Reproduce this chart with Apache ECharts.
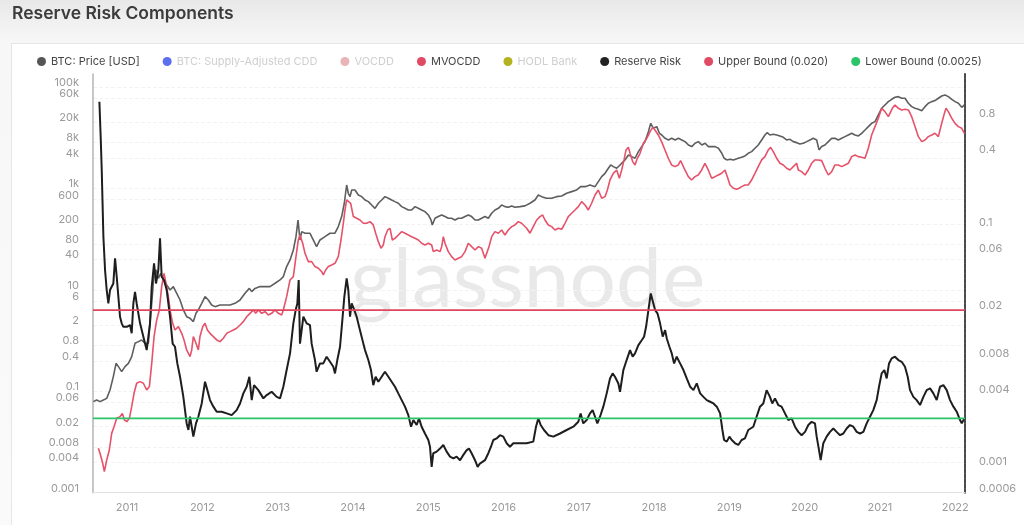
<!DOCTYPE html>
<html>
<head>
<meta charset="utf-8">
<script src="https://cdn.jsdelivr.net/npm/echarts@6/dist/echarts.min.js"></script>
<style>
  html, body { margin: 0; padding: 0; }
  body { width: 1024px; height: 525px; background: linear-gradient(#e8e8e8 0px, #f3f3f3 30px, #f7f7f7 42px, #fafafa 525px); position: relative; overflow: hidden; }
  #card { position: absolute; left: 11px; top: 43px; right: -2px; bottom: -2px; background: #fff; border: 1px solid #e6e6e6; }
  #chart { position: absolute; left: 0; top: 0; width: 1024px; height: 525px; }
</style>
</head>
<body>
<div id="card"></div>
<div id="chart"></div>
<script>
// ---- axis ticks ----
const yearTicks = [2011, 2012, 2013, 2014, 2015, 2016, 2017, 2018, 2019, 2020, 2021, 2022];
const leftTicks = [0.001, 0.004, 0.008, 0.02, 0.06, 0.1, 0.4, 0.8, 2, 6, 10, 40, 80, 200, 600, 1000, 4000, 8000, 20000, 60000, 100000];
const rightTicks = [0.0006, 0.001, 0.004, 0.008, 0.02, 0.06, 0.1, 0.4, 0.8];

// ---- bounds ----
const upperBound = 0.02;
const lowerBound = 0.0025;

// ---- BTC price [USD] (decimal year, value) ----
const priceYears = [2010.553,2010.597,2010.641,2010.686,2010.730,2010.774,2010.818,2010.854,2010.885,2010.929,2010.973,2011.018,2011.062,2011.106,2011.151,2011.195,2011.239,2011.283,2011.328,2011.359,2011.385,2011.416,2011.447,2011.483,2011.527,2011.571,2011.615,2011.660,2011.704,2011.748,2011.792,2011.837,2011.881,2011.916,2011.947,2011.992,2012.036,2012.080,2012.124,2012.169,2012.235,2012.301,2012.368,2012.434,2012.501,2012.567,2012.625,2012.656,2012.700,2012.766,2012.833,2012.899,2012.966,2013.032,2013.076,2013.120,2013.165,2013.209,2013.244,2013.271,2013.297,2013.320,2013.364,2013.430,2013.452,2013.496,2013.518,2013.563,2013.629,2013.696,2013.762,2013.806,2013.851,2013.886,2013.917,2013.939,2013.962,2013.984,2014.028,2014.072,2014.116,2014.161,2014.205,2014.249,2014.293,2014.338,2014.382,2014.426,2014.471,2014.515,2014.559,2014.603,2014.648,2014.692,2014.736,2014.781,2014.825,2014.869,2014.913,2014.957,2015.002,2015.037,2015.055,2015.090,2015.134,2015.179,2015.223,2015.267,2015.311,2015.356,2015.400,2015.444,2015.489,2015.533,2015.577,2015.622,2015.666,2015.710,2015.754,2015.799,2015.843,2015.887,2015.932,2015.976,2016.020,2016.064,2016.109,2016.153,2016.219,2016.286,2016.352,2016.418,2016.463,2016.507,2016.573,2016.640,2016.706,2016.773,2016.839,2016.905,2016.972,2017.025,2017.083,2017.149,2017.216,2017.260,2017.304,2017.349,2017.393,2017.424,2017.459,2017.504,2017.548,2017.614,2017.659,2017.703,2017.747,2017.792,2017.836,2017.880,2017.925,2017.956,2017.991,2018.036,2018.071,2018.102,2018.147,2018.191,2018.235,2018.279,2018.324,2018.368,2018.412,2018.456,2018.501,2018.545,2018.589,2018.634,2018.678,2018.722,2018.767,2018.811,2018.855,2018.900,2018.931,2018.966,2019.010,2019.054,2019.119,2019.163,2019.207,2019.251,2019.296,2019.340,2019.384,2019.429,2019.473,2019.504,2019.539,2019.584,2019.628,2019.672,2019.717,2019.761,2019.805,2019.849,2019.894,2019.938,2019.982,2020.027,2020.071,2020.115,2020.160,2020.191,2020.226,2020.270,2020.315,2020.359,2020.403,2020.447,2020.492,2020.536,2020.580,2020.625,2020.669,2020.713,2020.757,2020.802,2020.846,2020.890,2020.935,2020.979,2021.023,2021.067,2021.112,2021.156,2021.200,2021.245,2021.289,2021.333,2021.378,2021.422,2021.466,2021.511,2021.555,2021.599,2021.643,2021.688,2021.732,2021.776,2021.821,2021.865,2021.909,2021.954,2021.998,2022.042,2022.087,2022.122];
const priceValues = [0.0625,0.0673,0.0625,0.0673,0.0726,0.106,0.195,0.356,0.306,0.244,0.306,0.356,0.482,0.883,0.953,1.03,0.883,0.883,5.43,21.2,24.7,16.9,21.2,15.7,12.5,9.95,11.6,8.55,6.32,4.02,2.96,2.75,2.37,3.45,4.02,5.43,7.36,6.32,5.04,4.67,5.04,5.04,5.04,5.43,6.32,8.55,10.7,9.23,10.7,11.6,11.6,11.6,13.5,15.7,18.3,28.8,38.9,61.2,112,239,96.4,141,131,131,112,83.0,71.3,96.4,112,131,131,177,279,511,1172,804,690,935,935,745,690,593,550,473,406,511,593,690,640,593,550,511,439,406,377,377,439,406,377,349,300,239,191,258,279,300,279,258,258,239,258,258,279,300,279,239,239,258,279,258,324,377,406,473,439,426,453,426,439,453,511,593,745,690,640,640,690,711,804,867,935,1086,1086,1172,1086,1365,1710,1991,2500,2911,2698,2500,2911,3656,4581,4246,3945,5333,6699,8395,13213,19275,15382,16596,12246,11350,9750,9057,9750,9057,9750,9057,8395,7211,6699,7780,8395,7211,7780,6699,6699,6699,6209,4943,3945,3656,3767,3656,3945,4121,4375,4943,5333,6209,7211,9057,11350,12618,11350,11695,11350,10839,10209,9057,9333,8395,8017,7551,7780,8395,9057,9750,9057,5754,6699,7211,8395,9750,9750,9057,9750,10520,11350,12246,11350,10839,12246,14256,16596,19275,20797,28184,38107,44360,51640,57410,62810,64860,60120,60120,47860,41110,38107,36480,34280,41110,47860,51640,54080,60120,66680,69820,64860,57410,51640,47860,39900,44360];

// ---- MVOCDD ----
const mvocddYears = [2010.619,2010.641,2010.677,2010.699,2010.730,2010.765,2010.796,2010.827,2010.863,2010.907,2010.938,2010.965,2010.996,2011.031,2011.062,2011.093,2011.128,2011.173,2011.217,2011.261,2011.297,2011.328,2011.359,2011.394,2011.429,2011.460,2011.491,2011.518,2011.549,2011.571,2011.606,2011.637,2011.682,2011.726,2011.757,2011.792,2011.837,2011.859,2011.881,2011.916,2011.947,2011.969,2012.005,2012.036,2012.067,2012.102,2012.147,2012.191,2012.235,2012.279,2012.324,2012.368,2012.412,2012.456,2012.501,2012.545,2012.589,2012.633,2012.678,2012.709,2012.744,2012.788,2012.833,2012.877,2012.921,2012.966,2013.010,2013.054,2013.076,2013.120,2013.165,2013.209,2013.244,2013.275,2013.297,2013.333,2013.364,2013.408,2013.452,2013.496,2013.541,2013.585,2013.607,2013.638,2013.674,2013.718,2013.762,2013.806,2013.842,2013.873,2013.895,2013.917,2013.939,2013.970,2014.006,2014.050,2014.094,2014.139,2014.183,2014.227,2014.271,2014.302,2014.338,2014.373,2014.404,2014.426,2014.462,2014.493,2014.524,2014.559,2014.603,2014.648,2014.692,2014.736,2014.781,2014.825,2014.869,2014.913,2014.957,2015.002,2015.046,2015.068,2015.113,2015.157,2015.179,2015.201,2015.223,2015.267,2015.311,2015.356,2015.400,2015.444,2015.489,2015.533,2015.577,2015.622,2015.666,2015.710,2015.754,2015.777,2015.808,2015.843,2015.887,2015.932,2015.976,2016.020,2016.064,2016.109,2016.153,2016.197,2016.241,2016.308,2016.352,2016.396,2016.441,2016.485,2016.520,2016.551,2016.596,2016.640,2016.684,2016.729,2016.773,2016.817,2016.861,2016.905,2016.950,2016.994,2017.038,2017.083,2017.127,2017.171,2017.216,2017.260,2017.304,2017.349,2017.380,2017.415,2017.459,2017.504,2017.539,2017.570,2017.601,2017.628,2017.659,2017.681,2017.716,2017.747,2017.778,2017.814,2017.858,2017.903,2017.947,2017.982,2018.012,2018.056,2018.100,2018.145,2018.189,2018.233,2018.278,2018.322,2018.353,2018.379,2018.410,2018.455,2018.499,2018.543,2018.587,2018.632,2018.676,2018.720,2018.765,2018.809,2018.853,2018.898,2018.942,2018.973,2019.009,2019.053,2019.097,2019.130,2019.163,2019.207,2019.251,2019.296,2019.340,2019.384,2019.429,2019.473,2019.517,2019.548,2019.584,2019.628,2019.672,2019.717,2019.761,2019.805,2019.849,2019.894,2019.916,2019.960,2020.005,2020.049,2020.093,2020.137,2020.182,2020.226,2020.270,2020.315,2020.359,2020.403,2020.447,2020.492,2020.536,2020.580,2020.625,2020.669,2020.713,2020.757,2020.802,2020.846,2020.890,2020.935,2020.979,2021.023,2021.067,2021.112,2021.134,2021.165,2021.200,2021.245,2021.289,2021.333,2021.378,2021.422,2021.466,2021.511,2021.555,2021.599,2021.643,2021.688,2021.732,2021.776,2021.821,2021.856,2021.878,2021.909,2021.954,2021.998,2022.042,2022.087,2022.122];
const mvocddValues = [0.0075,0.00598,0.0038,0.0026,0.00442,0.00695,0.0148,0.02,0.0293,0.0316,0.0367,0.0272,0.0252,0.0293,0.0498,0.0912,0.144,0.155,0.144,0.106,0.124,0.356,1.20,2.55,4.02,11.6,21.2,13.5,7.36,4.02,2.19,1.62,1.88,1.39,1.03,0.653,0.482,0.653,1.20,0.883,0.653,1.20,1.88,2.19,1.62,1.39,1.20,1.03,0.953,1.11,1.39,1.50,1.62,1.75,2.03,2.37,2.96,3.45,4.02,3.45,4.02,3.45,3.72,3.20,3.45,4.02,3.45,3.20,4.02,7.36,15.7,18.3,45.2,96.4,121,83.0,52.6,36.1,36.1,28.8,26.7,22.9,19.7,24.7,28.8,31.0,33.4,45.2,96.4,206,377,593,640,511,279,258,239,206,206,222,191,131,89.3,66.1,76.9,112,152,164,96.4,104,121,141,131,121,112,104,96.4,83.0,76.9,83.0,76.9,56.8,61.2,56.8,71.3,112,83.0,56.8,45.2,38.9,42.0,45.2,56.8,83.0,71.3,61.2,71.3,66.1,42.0,45.2,71.3,112,141,131,152,121,152,177,191,222,206,164,131,177,239,279,300,239,191,177,152,164,157,206,279,324,377,439,550,473,377,511,745,935,640,690,935,1472,1991,2317,1589,2317,3656,5754,6486,4943,3388,2911,3945,4943,7780,9750,13213,16070,14256,11350,8395,5754,3945,2911,2698,2911,3540,3656,2317,1710,1472,1710,1845,2317,3141,2317,1589,1710,1845,1991,2317,1710,1172,1009,964,1009,1086,1172,1172,1472,1991,2698,3656,4246,5754,6486,5333,3945,3141,2911,2500,2317,2698,3141,2317,2148,1845,2317,3141,3656,3656,3540,2500,1845,2148,2911,2911,2698,2911,3141,4246,4581,4246,4121,3945,6209,11350,16596,24210,38107,32730,26120,24210,38107,44360,38107,35400,36480,35400,26120,16596,10520,8395,9057,10520,11350,12246,10520,19275,30270,38107,32730,24210,19275,16596,15382,12246];

// ---- Reserve Risk ----
const reserveRiskYears = [2010.633,2010.650,2010.664,2010.686,2010.708,2010.730,2010.752,2010.774,2010.796,2010.818,2010.841,2010.863,2010.885,2010.907,2010.929,2010.951,2010.996,2011.040,2011.062,2011.084,2011.106,2011.128,2011.173,2011.217,2011.261,2011.283,2011.305,2011.328,2011.359,2011.385,2011.416,2011.438,2011.460,2011.491,2011.527,2011.571,2011.606,2011.637,2011.668,2011.704,2011.748,2011.792,2011.815,2011.837,2011.859,2011.881,2011.916,2011.947,2011.992,2012.036,2012.067,2012.102,2012.147,2012.191,2012.257,2012.324,2012.390,2012.456,2012.501,2012.545,2012.589,2012.625,2012.656,2012.687,2012.744,2012.811,2012.855,2012.921,2012.988,2013.032,2013.076,2013.120,2013.165,2013.209,2013.240,2013.262,2013.280,2013.297,2013.342,2013.386,2013.430,2013.452,2013.496,2013.518,2013.563,2013.607,2013.651,2013.696,2013.740,2013.762,2013.793,2013.829,2013.860,2013.886,2013.917,2013.939,2013.962,2013.984,2014.019,2014.050,2014.094,2014.139,2014.161,2014.205,2014.240,2014.271,2014.302,2014.338,2014.382,2014.426,2014.471,2014.515,2014.559,2014.603,2014.648,2014.692,2014.736,2014.772,2014.803,2014.847,2014.878,2014.913,2014.957,2015.002,2015.024,2015.046,2015.068,2015.113,2015.157,2015.201,2015.245,2015.290,2015.334,2015.378,2015.423,2015.467,2015.511,2015.542,2015.577,2015.622,2015.657,2015.687,2015.754,2015.799,2015.834,2015.865,2015.909,2015.953,2015.998,2016.042,2016.086,2016.131,2016.197,2016.308,2016.396,2016.432,2016.463,2016.494,2016.538,2016.596,2016.662,2016.751,2016.839,2016.928,2016.994,2017.025,2017.060,2017.105,2017.149,2017.184,2017.216,2017.247,2017.282,2017.326,2017.371,2017.415,2017.450,2017.481,2017.526,2017.548,2017.592,2017.636,2017.681,2017.716,2017.747,2017.792,2017.836,2017.867,2017.894,2017.925,2017.956,2017.991,2018.014,2018.045,2018.080,2018.115,2018.147,2018.169,2018.204,2018.235,2018.266,2018.301,2018.346,2018.390,2018.434,2018.479,2018.523,2018.567,2018.612,2018.656,2018.700,2018.744,2018.789,2018.833,2018.877,2018.908,2018.930,2018.966,2019.001,2019.032,2019.077,2019.119,2019.163,2019.207,2019.251,2019.318,2019.362,2019.407,2019.451,2019.495,2019.539,2019.570,2019.606,2019.650,2019.694,2019.739,2019.783,2019.827,2019.872,2019.916,2019.960,2020.005,2020.049,2020.093,2020.137,2020.160,2020.191,2020.213,2020.248,2020.292,2020.337,2020.381,2020.425,2020.470,2020.514,2020.558,2020.602,2020.647,2020.691,2020.735,2020.780,2020.824,2020.868,2020.912,2020.957,2020.988,2021.023,2021.059,2021.090,2021.121,2021.156,2021.200,2021.245,2021.289,2021.333,2021.369,2021.400,2021.444,2021.488,2021.533,2021.577,2021.621,2021.666,2021.710,2021.754,2021.798,2021.843,2021.887,2021.931,2021.976,2022.020,2022.064,2022.087,2022.122];
const reserveRiskValues = [1.09,0.558,0.294,0.0818,0.0432,0.0294,0.0227,0.0294,0.0303,0.0333,0.054,0.0379,0.0258,0.0176,0.0155,0.0145,0.0145,0.015,0.0128,0.0227,0.0284,0.0227,0.0155,0.012,0.00927,0.00898,0.0155,0.0313,0.049,0.0333,0.0432,0.0793,0.0379,0.0356,0.0294,0.0176,0.0105,0.00989,0.00718,0.00556,0.00378,0.00227,0.002,0.00258,0.00213,0.00176,0.00227,0.00258,0.00333,0.00505,0.0043,0.00355,0.00313,0.00284,0.00284,0.00275,0.00266,0.00293,0.00333,0.00404,0.00459,0.00556,0.00355,0.00473,0.0043,0.00367,0.00391,0.00417,0.00378,0.00367,0.00459,0.00632,0.00871,0.0155,0.02,0.0227,0.0356,0.0105,0.0176,0.0155,0.015,0.0105,0.00766,0.00612,0.00718,0.00718,0.00817,0.00741,0.00673,0.00593,0.00766,0.00989,0.0165,0.0258,0.0367,0.0294,0.0176,0.0227,0.02,0.0176,0.0136,0.0105,0.00927,0.00766,0.00632,0.00473,0.00556,0.00505,0.00556,0.00612,0.00556,0.00505,0.00459,0.00404,0.00355,0.00313,0.00266,0.00213,0.00242,0.0022,0.0025,0.00213,0.00187,0.00165,0.00145,0.000986,0.00128,0.00132,0.0014,0.0015,0.00132,0.0012,0.00116,0.0012,0.00112,0.00124,0.00136,0.0014,0.00128,0.00112,0.000986,0.00105,0.00112,0.00128,0.00145,0.00165,0.0017,0.00181,0.00176,0.00155,0.00145,0.00155,0.00155,0.00155,0.0016,0.00213,0.0025,0.0022,0.002,0.00181,0.00176,0.00187,0.002,0.00213,0.00234,0.00275,0.00227,0.00242,0.00275,0.00293,0.00258,0.00227,0.00258,0.00313,0.00404,0.00538,0.00593,0.00556,0.00489,0.00417,0.00632,0.00766,0.00927,0.00817,0.00871,0.0102,0.0112,0.012,0.0145,0.02,0.0275,0.0227,0.02,0.0188,0.0155,0.012,0.0136,0.0116,0.00989,0.00871,0.00718,0.00817,0.00718,0.00632,0.00538,0.00459,0.0043,0.00489,0.00404,0.00378,0.00355,0.00344,0.00333,0.00313,0.00275,0.002,0.00165,0.0016,0.00176,0.00165,0.00155,0.0015,0.00165,0.0017,0.002,0.00213,0.00258,0.00313,0.00333,0.0043,0.00378,0.00333,0.00367,0.00323,0.00313,0.00275,0.00242,0.0025,0.00213,0.00193,0.00181,0.00193,0.0022,0.00234,0.00227,0.00176,0.00136,0.00112,0.00155,0.00176,0.00193,0.00206,0.00193,0.00181,0.00187,0.00206,0.0022,0.00213,0.00193,0.00187,0.00193,0.00227,0.00258,0.00293,0.00355,0.00459,0.00593,0.00632,0.00538,0.00718,0.00791,0.00817,0.00766,0.00741,0.00673,0.00556,0.0043,0.00378,0.00355,0.00323,0.00378,0.0043,0.00445,0.00404,0.00355,0.00459,0.00473,0.0043,0.00355,0.00313,0.00284,0.00242,0.00227,0.0025];

const xMin = 2010.548, xMax = 2022.13;

function pairs(xs, ys) { return xs.map((x, i) => [x, ys[i]]); }
function fmtLeft(v) {
  if (v >= 1000) return (v / 1000) + 'k';
  return String(v);
}

const chart = echarts.init(document.getElementById('chart'), null, { renderer: 'canvas' });
const FONT = 'Inter, "Noto Sans", sans-serif';
const greyText = '#cfcfcf';

chart.setOption({
  animation: false,
  backgroundColor: 'transparent',
  textStyle: { fontFamily: FONT },
  title: {
    text: 'Reserve Risk Components', left: 7, top: 0,
    textStyle: { fontFamily: FONT, fontSize: 17.5, fontWeight: 600, color: '#3b3b3b' }
  },
  legend: {
    left: 32, top: 51, icon: 'circle', itemWidth: 9, itemHeight: 9, itemGap: 23,
    textStyle: { fontSize: 11, color: '#444', fontFamily: FONT },
    selectedMode: false,
    data: [
      { name: 'BTC: Price [USD]' },
      { name: 'BTC: Supply-Adjusted CDD', textStyle: { color: greyText } },
      { name: 'VOCDD', textStyle: { color: greyText } },
      { name: 'MVOCDD' },
      { name: 'HODL Bank', textStyle: { color: greyText } },
      { name: 'Reserve Risk' },
      { name: 'Upper Bound (0.020)' },
      { name: 'Lower Bound (0.0025)' }
    ]
  },
  grid: { left: 93, right: 59, top: 74, bottom: 32.3, containLabel: false },
  graphic: [{
    type: 'text', z: 0, left: 350, top: 240, silent: true,
    style: { text: 'glassnode', fill: '#e9e9e9', font: '400 82px Lato, "Open Sans", sans-serif' }
  }],
  xAxis: {
    type: 'value', min: xMin, max: xMax,
    axisLine: { show: true, lineStyle: { color: '#e2e2e2', width: 1 } },
    axisTick: { show: false },
    splitLine: { show: false },
    axisLabel: { customValues: yearTicks, formatter: v => String(v), color: '#9a9a9a', fontSize: 11, margin: 9 }
  },
  yAxis: [
    {
      type: 'log', logBase: 10, position: 'left', min: 0.001, max: 181000,
      axisLine: { show: true, lineStyle: { color: '#b5b5b5', width: 1.5 } },
      axisTick: { show: false, customValues: leftTicks },
      splitLine: { show: true, lineStyle: { color: '#f3f3f3', type: 'dashed' } },
      axisLabel: { customValues: leftTicks, formatter: fmtLeft, color: '#9a9a9a', fontSize: 11, margin: 14, verticalAlign: 'bottom', lineHeight: 9 }
    },
    {
      type: 'log', logBase: 10, position: 'right', min: 0.0006, max: 1.86,
      axisLine: { show: true, lineStyle: { color: '#4a4a4a', width: 2, type: [4, 1] } },
      axisTick: { show: false, customValues: rightTicks },
      splitLine: { show: false },
      axisLabel: { customValues: rightTicks, formatter: v => String(v), color: '#9a9a9a', fontSize: 11, margin: 14, verticalAlign: 'bottom', lineHeight: 8 }
    }
  ],
  series: [
    { name: 'BTC: Price [USD]', type: 'line', yAxisIndex: 0, showSymbol: false, z: 3,
      lineStyle: { color: '#5e5e5e', width: 1.6 }, itemStyle: { color: '#555' },
      data: pairs(priceYears, priceValues) },
    { name: 'BTC: Supply-Adjusted CDD', type: 'line', yAxisIndex: 0, showSymbol: false,
      itemStyle: { color: '#5b6ff0' }, data: [] },
    { name: 'VOCDD', type: 'line', yAxisIndex: 0, showSymbol: false,
      itemStyle: { color: '#e8b4b8' }, data: [] },
    { name: 'MVOCDD', type: 'line', yAxisIndex: 0, showSymbol: false, z: 4,
      lineStyle: { color: '#e5526a', width: 1.6 }, itemStyle: { color: '#e04a62' },
      data: pairs(mvocddYears, mvocddValues) },
    { name: 'HODL Bank', type: 'line', yAxisIndex: 0, showSymbol: false,
      itemStyle: { color: '#b4b21e' }, data: [] },
    { name: 'Reserve Risk', type: 'line', yAxisIndex: 1, showSymbol: false, z: 5,
      lineStyle: { color: '#1e1e1e', width: 2 }, itemStyle: { color: '#222' },
      data: pairs(reserveRiskYears, reserveRiskValues) },
    { name: 'Upper Bound (0.020)', type: 'line', yAxisIndex: 1, showSymbol: false, z: 6,
      lineStyle: { color: '#e0455f', width: 1.8 }, itemStyle: { color: '#e04a62' },
      data: [[xMin, upperBound], [xMax, upperBound]] },
    { name: 'Lower Bound (0.0025)', type: 'line', yAxisIndex: 1, showSymbol: false, z: 6,
      lineStyle: { color: '#2bc46a', width: 1.8 }, itemStyle: { color: '#2ac46a' },
      data: [[xMin, lowerBound], [xMax, lowerBound]] }
  ]
});
</script>
</body>
</html>
